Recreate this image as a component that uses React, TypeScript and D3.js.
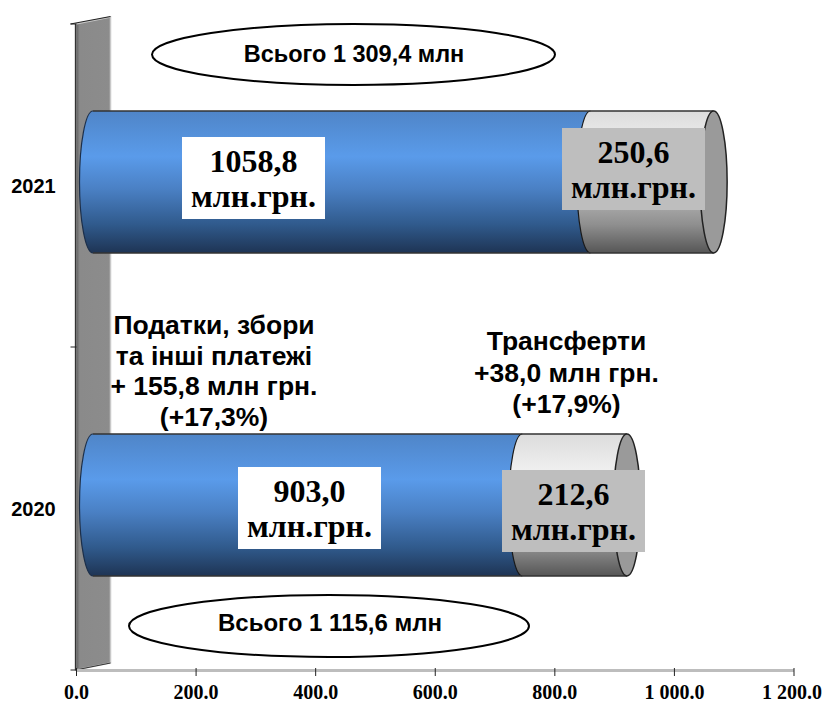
import React from "react";
import * as d3 from "d3";

const years = ["2021", "2020"];
const taxes = [832, 718];
const transfers = [206, 175];
const xTicks = [0, 200, 400, 600, 800, 1000, 1200];
const xTickLabels = ["0.0", "200.0", "400.0", "600.0", "800.0", "1 000.0", "1 200.0"];
const taxLabels = ["1058,8", "903,0"];
const transferLabels = ["250,6", "212,6"];
const unit = "млн.грн.";
const totals = ["Всього 1 309,4 млн", "Всього 1 115,6 млн"];
const taxNote = ["Податки, збори", "та інші платежі", "+ 155,8 млн грн.", "(+17,3%)"];
const transferNote = ["Трансферти", "+38,0 млн грн.", "(+17,9%)"];

const W = 828, H = 704;
const x = d3.scaleLinear().domain([0, 1200]).range([76.5, 794]);
const y = d3.scaleBand<string>().domain(years).range([24, 670]).paddingInner(0).paddingOuter(0);
const DEPTH_X = 16.5, DEPTH_Y = 3.5;
const RX = 13.5, RY = 71;
const SANS = "'Liberation Sans', Arial, sans-serif";
const SERIF = "'Liberation Serif', 'Times New Roman', serif";

const leftBox = [{ x: 182, y: 137 }, { x: 238, y: 467 }];
const rightBox = [{ x: 562, y: 128 }, { x: 502, y: 470 }];
const BW = 143, BH = 82;

function Box({ bx, by, fill, a }: { bx: number; by: number; fill: string; a: string }) {
  return (
    <g>
      <rect x={bx} y={by} width={BW} height={BH} fill={fill} />
      <text x={bx + BW / 2} y={by + 35} textAnchor="middle" fontFamily={SERIF} fontWeight="bold" fontSize={32} fill="#000">{a}</text>
      <text x={bx + BW / 2} y={by + 70} textAnchor="middle" fontFamily={SERIF} fontWeight="bold" fontSize={32} fill="#000">{unit}</text>
    </g>
  );
}

export default function App() {
  const base = x(0);
  return (
    <svg width={W} height={H} style={{ position: "absolute", left: 0, top: 0, background: "#fff" }}>
      <defs>
        <linearGradient id="blue" x1="0" y1="0" x2="0" y2="1">
          <stop offset="0" stopColor="#4f85c8" />
          <stop offset="0.32" stopColor="#5a9bea" />
          <stop offset="0.55" stopColor="#4a80c4" />
          <stop offset="0.8" stopColor="#305a8c" />
          <stop offset="1" stopColor="#1e3454" />
        </linearGradient>
        <linearGradient id="grey" x1="0" y1="0" x2="0" y2="1">
          <stop offset="0" stopColor="#dcdcdc" />
          <stop offset="0.25" stopColor="#efefef" />
          <stop offset="0.55" stopColor="#bdbdbd" />
          <stop offset="0.8" stopColor="#8f8f8f" />
          <stop offset="1" stopColor="#565656" />
        </linearGradient>
        <linearGradient id="wall" x1="0" y1="0" x2="1" y2="0">
          <stop offset="0" stopColor="#555" />
          <stop offset="0.12" stopColor="#8a8a8a" />
          <stop offset="1" stopColor="#8c8c8c" />
        </linearGradient>
      </defs>

      {/* back wall */}
      <path
        d={`M${base - 1},24 L${base + 34},17 L${base + 34},663 L${base - 1},670 Z`}
        fill="url(#wall)"
        stroke="#c8c8c8"
        strokeWidth={1.5}
      />
      <path d={`M${base - 6},24 L${base + 34},16.5`} stroke="#222" strokeWidth={1.2} fill="none" />
      <path d={`M${base - 1},24 V670`} stroke="#333" strokeWidth={1.2} fill="none" />
      <path d={`M${base - 1},670 L${base + 34},663`} stroke="#333" strokeWidth={1} fill="none" />

      {/* axes */}
      <line x1={base} x2={x(1200)} y1={670.5} y2={670.5} stroke="#bdbdbd" strokeWidth={3} />
      {xTicks.map((t, i) => (
        <g key={t}>
          <line x1={x(t)} x2={x(t)} y1={668} y2={676} stroke="#222" strokeWidth={1} />
          <text x={x(t) + (i === xTicks.length - 1 ? -2 : 0)} y={699} textAnchor="middle" fontFamily={SERIF} fontWeight="bold" fontSize={20} fill="#000">{xTickLabels[i]}</text>
        </g>
      ))}
      {[24, 347, 670].map((v) => (
        <line key={v} x1={base - 6} x2={base} y1={v} y2={v} stroke="#222" strokeWidth={1} />
      ))}

      {/* cylinders */}
      {years.map((yr, i) => {
        const mid = (y(yr) as number) + y.bandwidth() / 2;
        const cy = mid - DEPTH_Y;
        const top = cy - RY, bot = cy + RY;
        const x0 = x(taxes[i]) + DEPTH_X;
        const x1 = x(taxes[i] + transfers[i]) + DEPTH_X;
        const start = base + DEPTH_X;
        return (
          <g key={yr}>
            <path
              d={`M${start},${top} A${RX},${RY} 0 0 0 ${start},${bot} L${x1},${bot} L${x1},${top} Z`}
              fill="url(#grey)"
            />
            <path
              d={`M${start},${top} A${RX},${RY} 0 0 0 ${start},${bot} L${x0},${bot} A${RX},${RY} 0 0 1 ${x0},${top} Z`}
              fill="url(#blue)"
            />
            <path d={`M${start},${top} A${RX},${RY} 0 0 0 ${start},${bot}`} fill="none" stroke="#1c2f4a" strokeWidth={1.2} />
            <path d={`M${x0},${top} A${RX},${RY} 0 0 0 ${x0},${bot}`} fill="none" stroke="#1a1a1a" strokeWidth={1.2} />
            <path d={`M${start},${top} H${x1} M${start},${bot} H${x1}`} stroke="#333" strokeWidth={1.3} fill="none" />
            <ellipse cx={x1} cy={cy} rx={RX} ry={RY} fill="#9a9a9a" stroke="#222" strokeWidth={1.5} />
            <text x={33.5} y={mid + 7.5} textAnchor="middle" fontFamily={SANS} fontWeight="bold" fontSize={20} fill="#000">{yr}</text>
            <Box bx={leftBox[i].x} by={leftBox[i].y} fill="#fff" a={taxLabels[i]} />
            <Box bx={rightBox[i].x} by={rightBox[i].y} fill="#bebebe" a={transferLabels[i]} />
          </g>
        );
      })}

      {/* total ellipses */}
      <ellipse cx={353.5} cy={54.5} rx={201.5} ry={30.5} fill="#fff" stroke="#000" strokeWidth={2} />
      <text x={354} y={62} textAnchor="middle" fontFamily={SANS} fontWeight="bold" fontSize={23.5} fill="#000">{totals[0]}</text>
      <ellipse cx={329} cy={626} rx={200} ry={31} fill="#fff" stroke="#000" strokeWidth={2} />
      <text x={330} y={631} textAnchor="middle" fontFamily={SANS} fontWeight="bold" fontSize={24} fill="#000">{totals[1]}</text>

      {/* notes */}
      {taxNote.map((s, i) => (
        <text key={s} x={214} y={334 + i * 30.5} textAnchor="middle" fontFamily={SANS} fontWeight="bold" fontSize={26.5} fill="#000">{s}</text>
      ))}
      {transferNote.map((s, i) => (
        <text key={s} x={566.5} y={350 + i * 31.5} textAnchor="middle" fontFamily={SANS} fontWeight="bold" fontSize={26.5} fill="#000">{s}</text>
      ))}
    </svg>
  );
}
